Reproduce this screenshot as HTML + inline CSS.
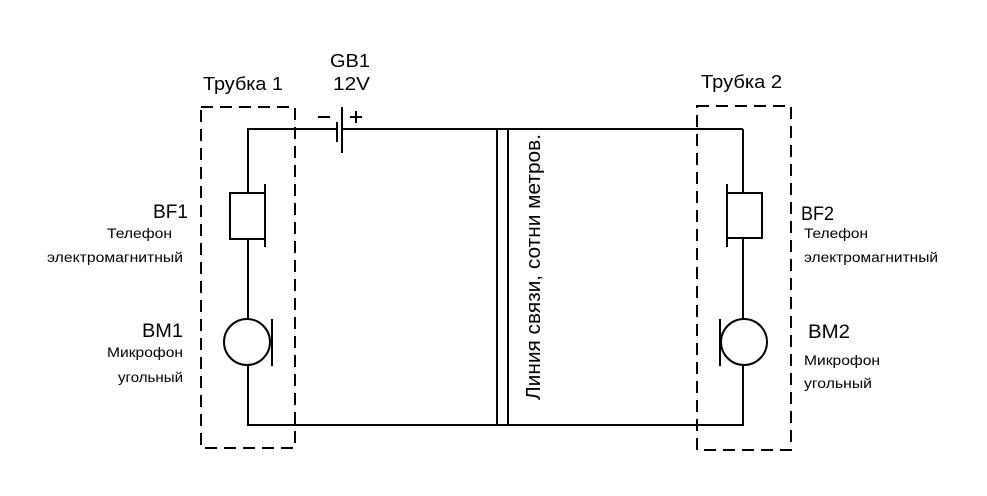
<!DOCTYPE html>
<html><head><meta charset="utf-8"><style>
body{margin:0;background:#fff}
svg{display:block}
text{font-family:"Liberation Sans",Arial,sans-serif;fill:#000}
</style></head><body>
<svg width="987" height="496" viewBox="0 0 987 496" xmlns="http://www.w3.org/2000/svg">
<g fill="none" stroke="#000" stroke-width="2">
<rect x="201" y="107" width="94" height="341" stroke-dasharray="12,7"/>
<rect x="697" y="106" width="94" height="344" stroke-dasharray="12,7"/>
<polyline points="337,129 248,129 248,193"/>
<line x1="342" y1="129" x2="743" y2="129"/>
<line x1="337" y1="122" x2="337" y2="142"/>
<line x1="342" y1="107" x2="342" y2="153"/>
<rect x="230" y="193" width="35" height="46"/>
<line x1="265" y1="184" x2="265" y2="247"/>
<line x1="248" y1="239" x2="248" y2="319"/>
<circle cx="247" cy="342" r="23"/>
<line x1="272" y1="319" x2="272" y2="366"/>
<polyline points="248,365 248,425 743,425 743,365"/>
<line x1="497" y1="129" x2="497" y2="425"/>
<line x1="508" y1="129" x2="508" y2="425"/>
<line x1="743" y1="129" x2="743" y2="193"/>
<rect x="727" y="193" width="35" height="45"/>
<line x1="727" y1="184" x2="727" y2="247"/>
<line x1="743" y1="238" x2="743" y2="319"/>
<circle cx="744" cy="342" r="23"/>
<line x1="720" y1="319" x2="720" y2="366"/>
<line x1="318" y1="117" x2="330" y2="117"/>
<line x1="350" y1="117" x2="362" y2="117"/>
<line x1="356" y1="111" x2="356" y2="123"/>
</g>
<text x="203" y="90" font-size="18" textLength="80" lengthAdjust="spacingAndGlyphs">Трубка 1</text>
<text x="701" y="88" font-size="18" textLength="81" lengthAdjust="spacingAndGlyphs">Трубка 2</text>
<text x="330" y="67" font-size="18" textLength="40" lengthAdjust="spacingAndGlyphs">GB1</text>
<text x="333" y="90" font-size="18" textLength="37" lengthAdjust="spacingAndGlyphs">12V</text>
<text x="153" y="218" font-size="19" textLength="35" lengthAdjust="spacingAndGlyphs">BF1</text>
<text x="107" y="238" font-size="14" textLength="65" lengthAdjust="spacingAndGlyphs">Телефон</text>
<text x="47" y="262" font-size="14" textLength="136" lengthAdjust="spacingAndGlyphs">электромагнитный</text>
<text x="142" y="337" font-size="19" textLength="41" lengthAdjust="spacingAndGlyphs">BM1</text>
<text x="107" y="357" font-size="14" textLength="76" lengthAdjust="spacingAndGlyphs">Микрофон</text>
<text x="118" y="382" font-size="14" textLength="65" lengthAdjust="spacingAndGlyphs">угольный</text>
<text x="801" y="220" font-size="19" textLength="33" lengthAdjust="spacingAndGlyphs">BF2</text>
<text x="804" y="238" font-size="14" textLength="64" lengthAdjust="spacingAndGlyphs">Телефон</text>
<text x="804" y="262" font-size="14" textLength="134" lengthAdjust="spacingAndGlyphs">электромагнитный</text>
<text x="808" y="338" font-size="19" textLength="42" lengthAdjust="spacingAndGlyphs">BM2</text>
<text x="804" y="365" font-size="14" textLength="76" lengthAdjust="spacingAndGlyphs">Микрофон</text>
<text x="804" y="388" font-size="14" textLength="68" lengthAdjust="spacingAndGlyphs">угольный</text>
<text transform="translate(540,400) rotate(-90)" font-size="20" textLength="266" lengthAdjust="spacingAndGlyphs">Линия связи, сотни метров.</text>
</svg>
</body></html>
